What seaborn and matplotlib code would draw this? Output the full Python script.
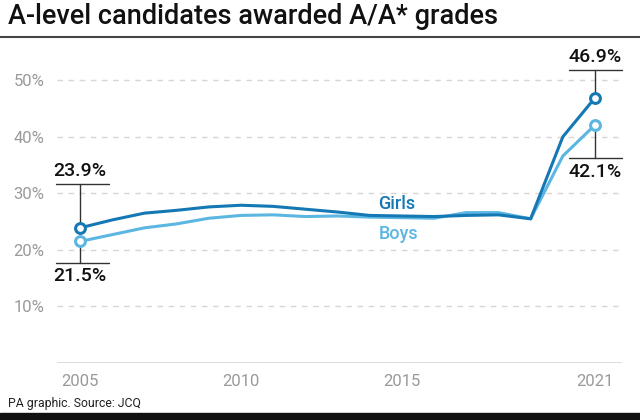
import matplotlib
matplotlib.use("Agg")
import matplotlib.pyplot as plt
import pandas as pd
import seaborn as sns

years = list(range(2005, 2022))
girls = [23.9, 25.3, 26.5, 27.0, 27.6, 27.9, 27.7, 27.2, 26.7, 26.1, 26.0, 25.9, 26.1, 26.2, 25.5, 40.0, 46.9]
boys = [21.5, 22.7, 23.9, 24.6, 25.6, 26.1, 26.2, 25.9, 26.0, 25.8, 25.7, 25.6, 26.6, 26.6, 25.5, 36.6, 42.1]
yticks = [10, 20, 30, 40, 50]
xticks = [2005, 2010, 2015, 2021]

girls_col = "#1478b4"
boys_col = "#5cb6e2"

df = pd.DataFrame({"Year": years * 2,
                   "Share": girls + boys,
                   "Group": ["Girls"] * len(years) + ["Boys"] * len(years)})

sns.set_style("white")
plt.rcParams["font.family"] = ["Roboto", "DejaVu Sans"]

fig = plt.figure(figsize=(6.4, 4.2), dpi=100)
ax = fig.add_axes([57 / 640, 57 / 420, 565 / 640, 311 / 420])

for y in yticks:
    ax.axhline(y, color="#d6d6d6", lw=1, ls=(0, (4, 4)), zorder=0)
ax.axhline(0, color="#d6d6d6", lw=1.2, zorder=0)

sns.lineplot(data=df, x="Year", y="Share", hue="Group",
             palette={"Girls": girls_col, "Boys": boys_col},
             hue_order=["Boys", "Girls"], lw=2.2, legend=False, ax=ax)

ends = df[df["Year"].isin([years[0], years[-1]])]
for grp, col in [("Boys", boys_col), ("Girls", girls_col)]:
    sub = ends[ends["Group"] == grp]
    ax.scatter(sub["Year"], sub["Share"], s=50, facecolor="white",
               edgecolor=col, linewidth=2.2, zorder=5)

ax.set_xlim(2005 - 23 / 32.2, 2021 + 27 / 32.2)
ax.set_ylim(0, 55)
ax.set_xticks(xticks)
ax.set_yticks(yticks)
ax.set_yticklabels([f"{v}%" for v in yticks])
ax.tick_params(length=0, labelsize=12, labelcolor="#9a9a9a")
ax.tick_params(axis="y", pad=9)
ax.tick_params(axis="x", pad=8)
ax.set_xlabel("")
ax.set_ylabel("")
for s in ax.spines.values():
    s.set_visible(False)

# annotation brackets
ln = dict(color="#333333", lw=1, zorder=3, clip_on=False)
lab = dict(fontsize=14, color="#111111", ha="center", fontweight="medium")
# 2005 girls
ax.plot([2005, 2005], [girls[0] + 0.8, 31.6], **ln)
ax.plot([2004.25, 2005.9], [31.6, 31.6], **ln)
ax.text(2005, 32.3, f"{girls[0]}%", va="bottom", **lab)
# 2005 boys
ax.plot([2005, 2005], [boys[0] - 0.8, 17.7], **ln)
ax.plot([2004.25, 2005.9], [17.7, 17.7], **ln)
ax.text(2005, 16.9, f"{boys[0]}%", va="top", **lab)
# 2021 girls
ax.plot([2021, 2021], [girls[-1] + 0.8, 51.8], **ln)
ax.plot([2020.2, 2021.84], [51.8, 51.8], **ln)
ax.text(2021, 52.5, f"{girls[-1]}%", va="bottom", **lab)
# 2021 boys
ax.plot([2021, 2021], [boys[-1] - 0.8, 36.2], **ln)
ax.plot([2020.2, 2021.84], [36.2, 36.2], **ln)
ax.text(2021, 35.4, f"{boys[-1]}%", va="top", **lab)

ax.text(2014.85, 26.6, "Girls", color=girls_col, fontsize=13,
        fontweight="medium", ha="center", va="bottom")
ax.text(2014.9, 24.4, "Boys", color=boys_col, fontsize=13,
        fontweight="medium", ha="center", va="top")

fig.text(8 / 640, 1 - 17 / 420, "A-level candidates awarded A/A* grades",
         fontsize=19.5, fontweight="medium", color="#111111", va="center")
fig.add_artist(plt.Line2D([0, 1], [1 - 37 / 420, 1 - 37 / 420],
                          color="#444444", lw=1.5))
fig.text(8 / 640, 1 - 404 / 420, "PA graphic. Source: JCQ",
         fontsize=8.8, color="#222222", va="center")
fig.add_artist(plt.Rectangle((0, 0), 1, 7 / 420, color="#111111"))

fig.savefig("out.png", dpi=100)
